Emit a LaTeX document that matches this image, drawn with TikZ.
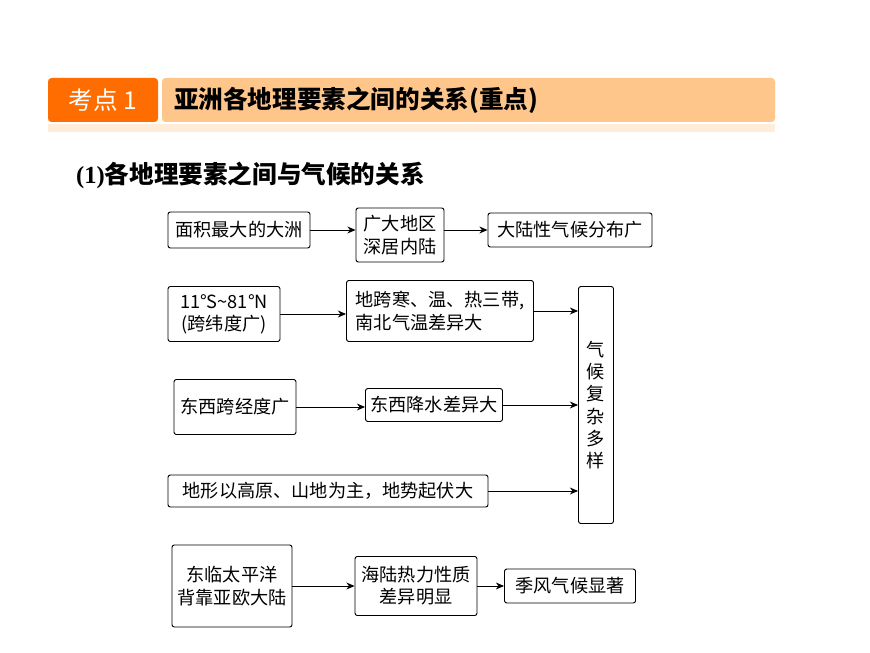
\documentclass[tikz,border=0pt]{standalone}
\usepackage{fontspec}
\setmainfont{Liberation Serif}
\newfontfamily\cjk{Noto Sans CJK SC}
\usetikzlibrary{arrows.meta,positioning}
\tikzset{
  box/.style={draw,thick,rounded corners=2pt,font=\cjk\fontsize{15.5}{19}\selectfont,align=center,inner sep=2pt},
  flow/.style={-{Stealth[length=7pt,width=6pt]},thick}
}
\begin{document}
\begin{tikzpicture}[x=0.03cm,y=-0.03cm]
    \useasboundingbox (0,0) rectangle (870,653);
    % header bar
    \fill[orange!85!red, rounded corners=3pt] (48,78) rectangle (158,122);
    \fill[orange!45, rounded corners=3pt] (162,78) rectangle (775,122);
    \fill[orange!15] (48,124) rectangle (775,132);
    \node[font=\cjk\fontsize{21}{24}\selectfont, text=white] (tag) at (103,100) {考点\ 1};
    \node[font=\cjk\bfseries\fontsize{21}{24}\selectfont, anchor=west] (head) at (170,100) {亚洲各地理要素之间的关系(重点)};
    \node[font=\bfseries\fontsize{21}{24}\selectfont, anchor=west] (title) at (72,175) {(1){\cjk 各地理要素之间与气候的关系}};
    % row 1
    \node[box, minimum width=142*0.03cm, minimum height=36*0.03cm] (area) at (239,230) {面积最大的大洲};
    \node[box, minimum width=88*0.03cm, minimum height=54*0.03cm] (inland) at (400,235) {广大地区\\深居内陆};
    \node[box, minimum width=164*0.03cm, minimum height=34*0.03cm] (cont) at (570,230) {大陆性气候分布广};
    % right column
    \node[box, minimum width=35*0.03cm, minimum height=237*0.03cm] (complex) at (596,405) {气\\候\\复\\杂\\多\\样};
    % row 2
    \node[box, minimum width=112*0.03cm, minimum height=55*0.03cm] (lat) at (224,314) {11°S\textasciitilde 81°N\\(跨纬度广)};
    \node[box, align=left, minimum width=187*0.03cm, minimum height=61*0.03cm] (zones) at (440,311) {地跨寒、温、热三带,\\南北气温差异大};
    % row 3
    \node[box, minimum width=122*0.03cm, minimum height=55*0.03cm] (lon) at (235,407) {东西跨经度广};
    \node[box, minimum width=137*0.03cm, minimum height=33*0.03cm] (rain) at (434,405) {东西降水差异大};
    % row 4
    \node[box, minimum width=320*0.03cm, minimum height=32*0.03cm] (relief) at (328,491) {地形以高原、山地为主，地势起伏大};
    % row 5
    \node[box, minimum width=120*0.03cm, minimum height=82*0.03cm] (sea) at (232,586) {东临太平洋\\背靠亚欧大陆};
    \node[box, minimum width=122*0.03cm, minimum height=59*0.03cm] (heat) at (416,586) {海陆热力性质\\差异明显};
    \node[box, minimum width=131*0.03cm, minimum height=34*0.03cm] (monsoon) at (570,586) {季风气候显著};
    % arrows
    \draw[flow] (area) -- (area-|inland.west);
    \draw[flow] (cont-|inland.east) -- (cont);
    \draw[flow] (lat) -- (lat-|zones.west);
    \draw[flow] (zones) -- (zones-|complex.west);
    \draw[flow] (lon) -- (lon-|rain.west);
    \draw[flow] (rain) -- (rain-|complex.west);
    \draw[flow] (relief) -- (relief-|complex.west);
    \draw[flow] (sea) -- (heat);
    \draw[flow] (heat) -- (monsoon);
\end{tikzpicture}
\end{document}
